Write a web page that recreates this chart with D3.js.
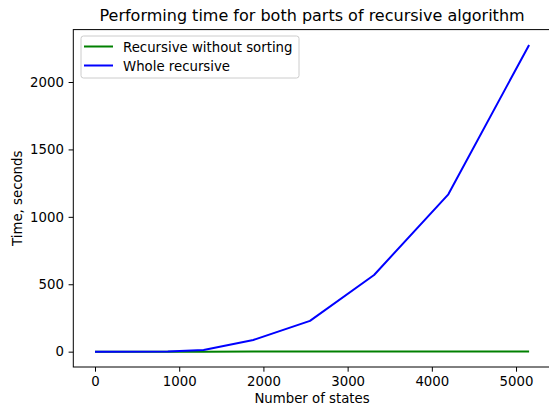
<!DOCTYPE html>
<html>
<head>
<meta charset="UTF-8">
<title>Performing time</title>
<script src="https://cdn.jsdelivr.net/npm/d3@7"></script>
<style>
  body { margin: 0; background: #fff; }
  text { font-family: "DejaVu Sans", sans-serif; fill: #000; }
</style>
</head>
<body>
<div id="app"></div>
<script>
    // data
    var states = [0, 865, 1290, 1880, 2553, 3314, 4196, 5155];
    var withoutSorting = [0, 0.1, 0.2, 0.4, 0.6, 0.9, 1.3, 1.8];
    var wholeRecursive = [0, 2, 12, 87, 228, 569, 1167, 2275];
    var xTicks = [0, 1000, 2000, 3000, 4000, 5000];
    var yTicks = [0, 500, 1000, 1500, 2000];
    var seriesNames = ['Recursive without sorting', 'Whole recursive'];
    var seriesColors = ['#008000', '#0000ff'];

    var W = 549, H = 407;
    // plot area (window.top is reserved, so use other names)
    var pLeft = 73.3, pRight = 550.8, pTop = 29.6, pBottom = 367;

    // matplotlib style 5% margins
    var xMin = d3.min(states), xMax = d3.max(states);
    var xPad = (xMax - xMin) * 0.05;
    var yMax = d3.max(wholeRecursive);
    var yPad = yMax * 0.05;

    var x = d3.scaleLinear().domain([xMin - xPad, xMax + xPad]).range([pLeft, pRight]);
    var y = d3.scaleLinear().domain([-yPad, yMax + yPad]).range([pBottom, pTop]);

    var svg = d3.select('#app').append('svg')
        .attr('width', W).attr('height', H);

    // axes
    var fmt = d3.format('d');
    var xAxis = svg.append('g')
        .attr('transform', 'translate(0,' + pBottom + ')')
        .call(d3.axisBottom(x).tickValues(xTicks).tickFormat(fmt).tickSize(4.7).tickPadding(4.7).tickSizeOuter(0));
    var yAxis = svg.append('g')
        .attr('transform', 'translate(' + pLeft + ',0)')
        .call(d3.axisLeft(y).tickValues(yTicks).tickFormat(fmt).tickSize(4.7).tickPadding(4.7).tickSizeOuter(0));
    [xAxis, yAxis].forEach(function(a){
        a.selectAll('text').style('font-size', '13.3px').attr('fill', '#222')
            .style('font-family', '"DejaVu Sans", sans-serif');
        a.selectAll('line').attr('stroke', '#000').attr('stroke-width', 1);
        a.select('.domain').remove();
    });

    // lines
    var line = d3.line()
        .x(function(d){ return x(d[0]); })
        .y(function(d){ return y(d[1]); });
    [withoutSorting, wholeRecursive].forEach(function(vals, i){
        svg.append('path')
            .datum(states.map(function(s, j){ return [s, vals[j]]; }))
            .attr('fill', 'none')
            .attr('stroke', seriesColors[i])
            .attr('stroke-width', 2)
            .attr('stroke-linejoin', 'round')
            .attr('d', line);
    });

    // frame
    svg.append('rect')
        .attr('x', pLeft).attr('y', pTop)
        .attr('width', pRight - pLeft).attr('height', pBottom - pTop)
        .attr('fill', 'none').attr('stroke', '#000').attr('stroke-width', 1);

    // title and labels
    svg.append('text')
        .attr('x', (pLeft + pRight) / 2).attr('y', 21)
        .attr('text-anchor', 'middle')
        .style('font-size', '16px')
        .text('Performing time for both parts of recursive algorithm');
    svg.append('text')
        .attr('x', (pLeft + pRight) / 2).attr('y', 403)
        .attr('text-anchor', 'middle')
        .style('font-size', '13.3px')
        .text('Number of states');
    svg.append('text')
        .attr('transform', 'translate(22,' + ((pTop + pBottom) / 2) + ') rotate(-90)')
        .attr('text-anchor', 'middle')
        .style('font-size', '13.3px')
        .text('Time, seconds');

    // legend
    var lg = svg.append('g').attr('transform', 'translate(81,36)');
    lg.append('rect')
        .attr('width', 218).attr('height', 42).attr('rx', 2.5)
        .attr('fill', '#fff').attr('fill-opacity', 0.8)
        .attr('stroke', '#ccc').attr('stroke-width', 1);
    seriesNames.forEach(function(name, i){
        var cy = 10.5 + i * 19;
        lg.append('line')
            .attr('x1', 3).attr('x2', 32).attr('y1', cy).attr('y2', cy)
            .attr('stroke', seriesColors[i]).attr('stroke-width', 2);
        lg.append('text')
            .attr('x', 42).attr('y', cy + 5)
            .style('font-size', '13.3px')
            .text(name);
    });
</script>
</body>
</html>
